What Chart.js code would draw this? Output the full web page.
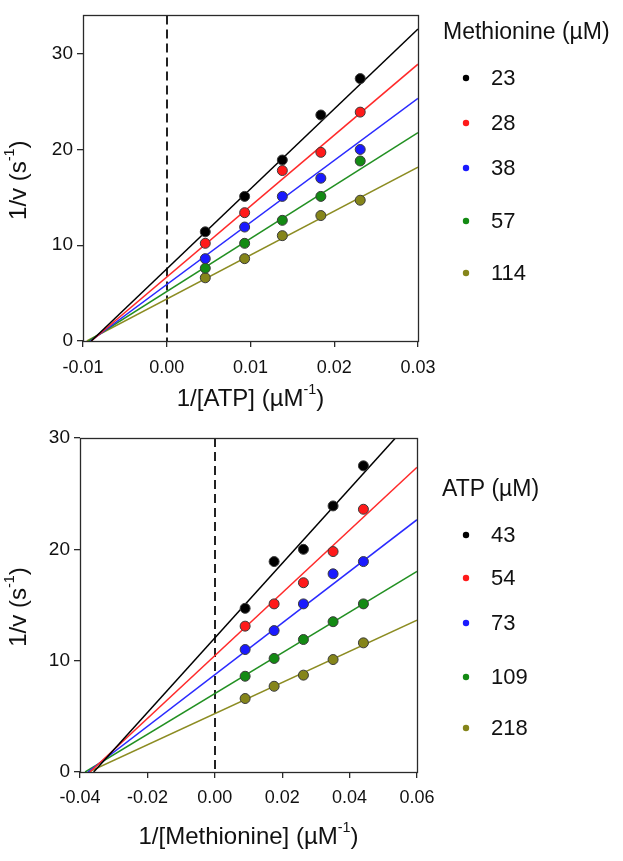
<!DOCTYPE html>
<html>
<head>
<meta charset="utf-8">
<script src="https://cdn.jsdelivr.net/npm/chart.js@4/dist/chart.umd.min.js"></script>
<style>
  html, body { margin: 0; padding: 0; background: #ffffff; }
  canvas { position: absolute; left: 0; }
  #c1 { top: 0; }
  #c2 { top: 420px; }
</style>
</head>
<body>
<canvas id="c1" width="623" height="420" style="width:623px;height:420px"></canvas>
<canvas id="c2" width="623" height="441" style="width:623px;height:441px"></canvas>
<script>
// ---------- DATA ----------
const seriesColors = ['#000000', '#ff1a1a', '#1a1aff', '#138a13', '#85851a'];
const lineColors   = ['#000000', '#ff2a2a', '#2a2aff', '#229022', '#8c8c22'];

// Top panel: 1/v vs 1/[ATP] at fixed Methionine
const atpInv      = [0.0046, 0.0093, 0.0138, 0.0184, 0.0231];
const methLabels  = ['23', '28', '38', '57', '114'];
const topMet23    = [11.4, 15.1, 18.9, 23.6, 27.4];
const topMet28    = [10.2, 13.4, 17.8, 19.7, 23.9];
const topMet38    = [8.6, 11.9, 15.1, 17.0, 20.0];
const topMet57    = [7.6, 10.2, 12.6, 15.1, 18.8];
const topMet114   = [6.6, 8.6, 11.0, 13.1, 14.7];
const topFitIntercepts = [7.53, 6.68, 5.90, 5.16, 4.38];
const topFitSlopes     = [835, 741, 648, 553, 459];
const topXTicks   = [-0.01, 0.00, 0.01, 0.02, 0.03];
const topYTicks   = [0, 10, 20, 30];

// Bottom panel: 1/v vs 1/[Methionine] at fixed ATP
const metInv      = [0.0090, 0.0176, 0.0263, 0.0351, 0.0441];
const atpLabels   = ['43', '54', '73', '109', '218'];
const botAtp43    = [14.7, 18.9, 20.0, 23.9, 27.5];
const botAtp54    = [13.1, 15.1, 17.0, 19.8, 23.6];
const botAtp73    = [11.0, 12.7, 15.1, 17.8, 18.9];
const botAtp109   = [8.6, 10.2, 11.9, 13.5, 15.1];
const botAtp218   = [6.6, 7.7, 8.7, 10.1, 11.6];
const botFitIntercepts = [12.04, 10.45, 8.74, 7.04, 5.24];
const botFitSlopes     = [335, 282, 232, 183, 140];
const botXTicks   = [-0.04, -0.02, 0.00, 0.02, 0.04, 0.06];
const botYTicks   = [0, 10, 20, 30];

// ---------- HELPERS ----------
const FONT = '"Liberation Sans", Arial, Helvetica, sans-serif';
const TEXT = '#111111';

function fitLine(b, m, xmin, xmax) {
  const x0 = Math.max(xmin, -b / m);
  return [{ x: x0, y: b + m * x0 }, { x: xmax, y: b + m * xmax }];
}

function buildDatasets(xs, seriesList, labels, intercepts, slopes, xmin, xmax) {
  const ds = [];
  seriesList.forEach((ys, i) => {
    ds.push({
      label: labels[i],
      data: xs.map((x, j) => ({ x: x, y: ys[j] })),
      backgroundColor: seriesColors[i],
      borderColor: '#3a3a3a',
      borderWidth: 1,
      pointRadius: 5,
      pointHoverRadius: 5,
      showLine: false,
      order: 0,
      isPoints: true
    });
    ds.push({
      label: labels[i] + ' fit',
      data: fitLine(intercepts[i], slopes[i], xmin, xmax),
      borderColor: lineColors[i],
      backgroundColor: lineColors[i],
      borderWidth: 1.5,
      pointRadius: 0,
      pointHoverRadius: 0,
      showLine: true,
      fill: false,
      order: 1,
      isPoints: false
    });
  });
  return ds;
}

function drawRich(ctx, segs, cx, cy, size, rotate) {
  ctx.save();
  ctx.translate(cx, cy);
  if (rotate) ctx.rotate(-Math.PI / 2);
  let total = 0;
  const parts = segs.map(s => {
    const fs = s.sup ? size * 0.6 : size;
    ctx.font = fs + 'px ' + FONT;
    const w = ctx.measureText(s.t).width;
    total += w;
    return { s: s, fs: fs, w: w };
  });
  let x = -total / 2;
  ctx.textBaseline = 'middle';
  ctx.textAlign = 'left';
  ctx.fillStyle = TEXT;
  parts.forEach(p => {
    ctx.font = p.fs + 'px ' + FONT;
    ctx.fillText(p.s.t, x, p.s.sup ? -size * 0.36 : 0);
    x += p.w;
  });
  ctx.restore();
}

const decorPlugin = {
  id: 'decor',
  beforeDatasetsDraw(chart, args, opts) {
    const ctx = chart.ctx;
    const a = chart.chartArea;
    const xs = chart.scales.x;
    const px = Math.round(xs.getPixelForValue(0));
    ctx.save();
    ctx.strokeStyle = '#222';
    ctx.lineWidth = 2;
    ctx.setLineDash([9, 5]);
    ctx.beginPath();
    ctx.moveTo(px, a.top);
    ctx.lineTo(px, a.bottom);
    ctx.stroke();
    ctx.restore();
  },
  afterDraw(chart, args, opts) {
    const ctx = chart.ctx;
    const a = chart.chartArea;
    // frame
    ctx.save();
    ctx.strokeStyle = '#2a2a2a';
    ctx.lineWidth = 1.3;
    ctx.strokeRect(Math.round(a.left) + 0.5, Math.round(a.top) + 0.5,
                   Math.round(a.right - a.left), Math.round(a.bottom - a.top));
    ctx.restore();
    // axis titles
    drawRich(ctx, opts.xTitle, (a.left + a.right) / 2, opts.xTitleY, 24, false);
    drawRich(ctx, opts.yTitle, opts.yTitleX, (a.top + a.bottom) / 2 + 2, 24, true);
    // legend
    const L = opts.legend;
    ctx.save();
    ctx.fillStyle = TEXT;
    ctx.textBaseline = 'middle';
    ctx.textAlign = 'left';
    ctx.font = '23px ' + FONT;
    ctx.fillText(L.title, L.titleX, L.titleY);
    const pts = chart.data.datasets.filter(d => d.isPoints);
    ctx.font = '22px ' + FONT;
    pts.forEach((d, i) => {
      const y = L.itemY[i];
      ctx.beginPath();
      ctx.fillStyle = d.backgroundColor;
      ctx.arc(L.markerX, y, 3.2, 0, Math.PI * 2);
      ctx.fill();
      ctx.fillStyle = TEXT;
      ctx.fillText(d.label, L.labelX, y + 1);
    });
    ctx.restore();
  }
};

function makeChart(canvasId, cfg) {
  const area = cfg.area;
  const W = 623;
  const H = cfg.height;
  return new Chart(document.getElementById(canvasId), {
    type: 'scatter',
    data: { datasets: cfg.datasets },
    plugins: [decorPlugin],
    options: {
      responsive: false,
      animation: false,
      devicePixelRatio: 1,
      layout: { padding: { left: 0, top: area.top, right: W - area.right, bottom: 0 } },
      scales: {
        x: {
          type: 'linear',
          min: cfg.xTicks[0],
          max: cfg.xTicks[cfg.xTicks.length - 1],
          afterBuildTicks: s => { s.ticks = cfg.xTicks.map(v => ({ value: v })); },
          afterFit: s => { s.height = H - area.bottom; },
          border: { display: false },
          grid: { display: true, drawOnChartArea: false, drawTicks: true, tickLength: 6, color: '#2a2a2a', lineWidth: 1.3 },
          ticks: {
            padding: cfg.xTickPad,
            color: TEXT,
            font: { family: FONT, size: 18 },
            maxRotation: 0,
            autoSkip: false,
            callback: v => Number(v).toFixed(2)
          }
        },
        y: {
          type: 'linear',
          min: 0,
          max: cfg.yMax,
          afterBuildTicks: s => { s.ticks = cfg.yTicks.map(v => ({ value: v })); },
          afterFit: s => { s.width = area.left; },
          border: { display: false },
          grid: { display: true, drawOnChartArea: false, drawTicks: true, tickLength: 6, color: '#2a2a2a', lineWidth: 1.3 },
          ticks: {
            padding: 4,
            color: TEXT,
            font: { family: FONT, size: 19 },
            autoSkip: false,
            callback: v => String(v)
          }
        }
      },
      plugins: {
        legend: { display: false },
        tooltip: { enabled: false },
        decor: cfg.decor
      }
    }
  });
}

makeChart('c1', {
  height: 420,
  area: { left: 83, right: 418, top: 6, bottom: 341 },
  xTicks: topXTicks, yTicks: topYTicks, yMax: 34, xTickPad: 10,
  datasets: buildDatasets(atpInv, [topMet23, topMet28, topMet38, topMet57, topMet114],
                          methLabels, topFitIntercepts, topFitSlopes, -0.01, 0.03),
  decor: {
    xTitle: [{ t: '1/[ATP] (\u00B5M' }, { t: '-1', sup: true }, { t: ')' }],
    xTitleY: 399,
    yTitle: [{ t: '1/v (s' }, { t: '-1', sup: true }, { t: ')' }],
    yTitleX: 19,
    legend: {
      title: 'Methionine (\u00B5M)', titleX: 443, titleY: 33,
      markerX: 466, labelX: 491,
      itemY: [78, 123, 168, 221, 273]
    }
  }
});

makeChart('c2', {
  height: 441,
  area: { left: 80, right: 417, top: 18, bottom: 352 },
  xTicks: botXTicks, yTicks: botYTicks, yMax: 30, xTickPad: 9,
  datasets: buildDatasets(metInv, [botAtp43, botAtp54, botAtp73, botAtp109, botAtp218],
                          atpLabels, botFitIntercepts, botFitSlopes, -0.04, 0.06),
  decor: {
    xTitle: [{ t: '1/[Methionine] (\u00B5M' }, { t: '-1', sup: true }, { t: ')' }],
    xTitleY: 417,
    yTitle: [{ t: '1/v (s' }, { t: '-1', sup: true }, { t: ')' }],
    yTitleX: 19,
    legend: {
      title: 'ATP (\u00B5M)', titleX: 442, titleY: 70,
      markerX: 466, labelX: 491,
      itemY: [115, 158, 203, 257, 308]
    }
  }
});
</script>
</body>
</html>
